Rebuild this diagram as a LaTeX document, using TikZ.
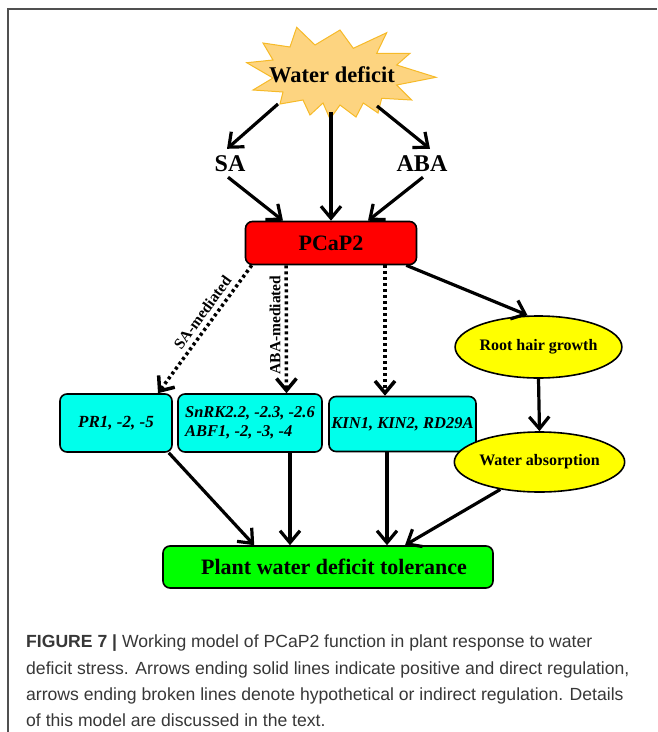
\documentclass[tikz,border=0pt]{standalone}
\usepackage{fontspec}
\setmainfont{Liberation Serif}
\newfontfamily\capfont{Liberation Sans}
\usetikzlibrary{arrows.meta,shapes.geometric,calc}
\definecolor{burstfill}{RGB}{253,212,128}
\definecolor{burstline}{RGB}{246,186,40}
\definecolor{cyanfill}{RGB}{0,255,235}
\definecolor{greenfill}{RGB}{0,255,0}
\definecolor{redfill}{RGB}{255,0,0}
\definecolor{yellowfill}{RGB}{255,255,0}
\definecolor{framegray}{RGB}{80,80,80}
\definecolor{captext}{RGB}{55,55,55}
\tikzset{
  arr/.style={line width=3.2pt,-{Straight Barb[length=12pt,width=20pt]}},
  dotarr/.style={arr,line width=3.5pt,dash pattern=on 3pt off 3pt},
  boxbase/.style={draw=black,line width=1.6pt,rounded corners=7pt,inner sep=2pt},
  genebox/.style={boxbase,fill=cyanfill,minimum height=58pt,
    font=\fontsize{17}{20}\selectfont\bfseries\itshape},
  ellbox/.style={draw=black,line width=1.6pt,ellipse,fill=yellowfill,inner sep=0pt,
    font=\fontsize{16}{19}\selectfont\bfseries},
  bigtext/.style={font=\fontsize{24}{28}\selectfont\bfseries,inner xsep=2pt,inner ysep=6pt,
    text height=16pt,text depth=0pt},
  medlabel/.style={font=\fontsize{15.5}{18}\selectfont\bfseries,inner sep=0pt},
  captionline/.style={anchor=base west,inner sep=0pt,text=captext,
    font=\capfont\fontsize{17.6}{21}\selectfont},
}
\begin{document}
\begin{tikzpicture}[x=1pt,y=-1pt]
\useasboundingbox (0,0) rectangle (657,732);
% frame
\draw[framegray,line width=1.8pt] (8.3,732) -- (8.3,9) -- (657,9);
% starburst
\filldraw[fill=burstfill,draw=burstline,line width=1pt,line join=miter]
 (296.7,27.3) -- (315,45) -- (340,30) -- (353.3,48.3) -- (386.7,32.7) -- (376.7,53.3)
 -- (410,53.3) -- (396.7,65) -- (436,77.3) -- (396.7,85) -- (411.7,100) -- (381.7,98.3)
 -- (378,113) -- (363.3,103) -- (356,117) -- (340,105) -- (330,119) -- (323,103)
 -- (310,115) -- (303,100) -- (280,104) -- (283,92) -- (253,90) -- (273,78)
 -- (246.7,62.7) -- (273,60) -- (263,43) -- (290,47) -- cycle;
\node[font=\fontsize{22.5}{26}\selectfont\bfseries] (wd) at (332,75) {Water deficit};
\coordinate (wdl) at (278,104);
\coordinate (wdc) at (331,112);
\coordinate (wdr) at (377,106);
% SA / ABA
\node[bigtext] (sa) at (230,163) {SA};
\node[bigtext] (aba) at (422,163) {ABA};
% PCaP2
\node[boxbase,fill=redfill,minimum width=171pt,minimum height=43pt,
  font=\fontsize{22}{26}\selectfont\bfseries] (pcap) at (331,243) {PCaP2};
% gene boxes
\node[genebox,minimum width=112pt] (pr1) at (116,423) {PR1, -2, -5};
\node[genebox,minimum width=144pt,align=left,font=\fontsize{16.5}{19.5}\selectfont\bfseries\itshape] (snrk) at (250,423)
  {SnRK2.2, -2.3, -2.6\\ABF1, -2, -3, -4};
\node[genebox,minimum width=147pt,minimum height=55pt,font=\fontsize{16.5}{19.5}\selectfont\bfseries\itshape] (kin) at (402.5,424) {KIN1, KIN2, RD29A};
% ellipses
\node[ellbox,minimum width=132pt,minimum height=62pt] (root) at (538.5,347) {Root hair growth};
\node[ellbox,minimum width=133pt,minimum height=60pt] (wabs) at (539.5,462) {Water absorption};
% tolerance
\node[boxbase,fill=greenfill,minimum width=330pt,minimum height=42pt,
  font=\fontsize{22}{26}\selectfont\bfseries] (plant) at (328,567) {\hspace*{12pt}Plant water deficit tolerance};
% arrows from water deficit
\draw[arr] (wdl) -- ($(sa.north)+(-3,0)$);
\draw[arr] (wdc) -- (pcap.north);
\draw[arr] (wdr) -- ($(aba.north)+(8,0)$);
\draw[arr] ($(sa.south)+(-2,0)$) -- ($(pcap.north)+(-48,0)$);
\draw[arr] ($(aba.south)+(1,0)$) -- ($(pcap.north)+(37,0)$);
% dotted arrows
\draw[dotarr] ($(pcap.south west)+(7,0)$) -- ($(pr1.north)+(42,0)$);
\draw[dotarr] ($(pcap.south west)+(41.5,0)$) -- ($(snrk.north)+(36.5,0)$);
\draw[dotarr] ($(pcap.south)+(54,0)$) -- ($(kin.north)+(-17.5,0)$);
\node[medlabel,rotate=53.9] (lsa) at (202.5,312.5) {SA-mediated};
\node[medlabel,rotate=90] (laba) at (275,325) {ABA-mediated};
% root hair branch
\draw[arr] ($(pcap.south east)+(-11,0)$) -- ($(root.north)+(-11,0)$);
\draw[arr] (root.south) -- (wabs.north);
% to tolerance
\draw[arr] ($(pr1.south east)+(-4,0)$) -- ($(plant.north west)+(92,0)$);
\draw[arr] ($(snrk.south)+(40,0)$) -- ($(plant.north)+(-38,0)$);
\draw[arr] ($(kin.south)+(-15.5,0)$) -- ($(plant.north)+(59,0)$);
\draw[arr] (wabs.215) -- ($(plant.north)+(77,0)$);
% caption
\node[captionline] (cap1) at (26,647) {\textbf{FIGURE 7 |} Working model of PCaP2 function in plant response to water};
\node[captionline] (cap2) at (26,674) {deficit stress. Arrows ending solid lines indicate positive and direct regulation,};
\node[captionline] (cap3) at (26,700) {arrows ending broken lines denote hypothetical or indirect regulation. Details};
\node[captionline] (cap4) at (26,726) {of this model are discussed in the text.};
\end{tikzpicture}
\end{document}
